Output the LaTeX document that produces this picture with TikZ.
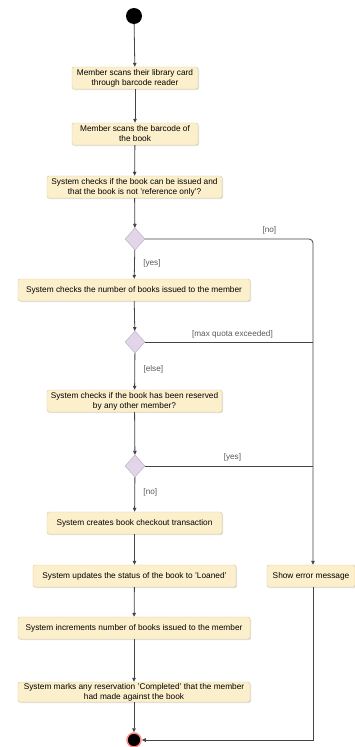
\documentclass[tikz,border=0pt]{standalone}
\usepackage{fontspec}
\setmainfont{Liberation Sans}
\usetikzlibrary{arrows.meta,shadows,shapes.geometric}
\definecolor{actfill}{HTML}{FCF0CC}
\definecolor{actline}{HTML}{D9C791}
\definecolor{decfill}{HTML}{E1D5E7}
\definecolor{decline}{HTML}{B9A6C6}
\definecolor{flowline}{HTML}{444444}
\tikzset{
  activity/.style={draw=actline, fill=actfill, rounded corners=2pt, align=center,
    inner sep=1pt, minimum height=22pt, drop shadow={shadow xshift=1pt, shadow yshift=-1pt, opacity=0.25}},
  decision/.style={draw=decline, fill=decfill, shape=diamond, minimum width=20pt,
    minimum height=22pt, inner sep=0pt},
  flow/.style={draw=flowline, thick, -{Triangle[length=4pt,width=3.5pt]}},
  guard/.style={font=\fontsize{8.2}{9}\selectfont, text=black!65}
}
\begin{document}
\begin{tikzpicture}[x=1pt, y=-1pt, every node/.append style={font=\fontsize{8.3}{10}\selectfont}]
  \useasboundingbox (0,0) rectangle (355,747);
  % start and end
  \node[circle, fill=black, minimum size=16pt, inner sep=0pt] (start) at (134,16) {};
  \node[circle, fill=black, draw=red!45, line width=1.5pt, minimum size=14pt, inner sep=0pt] (stop) at (134,740) {};
  % main branch
  \node[activity, minimum width=126pt] (scancard) at (135,78) {Member scans their library card\\through barcode reader};
  \node[activity, minimum width=126pt] (scanbook) at (135,134) {Member scans the barcode of\\the book};
  \node[activity, minimum width=175pt] (canissue) at (134.5,187) {System checks if the book can be issued and\\that the book is not 'reference only'?};
  \node[decision] (dissue) at (135,239) {};
  \node[activity, minimum width=232pt] (quota) at (134,290) {System checks the number of books issued to the member};
  \node[decision] (dquota) at (135,342) {};
  \node[activity, minimum width=175pt] (reserved) at (134.5,401) {System checks if the book has been reserved\\by any other member?};
  \node[decision] (dreserved) at (135,466) {};
  \node[activity, minimum width=175pt] (checkout) at (134.5,523) {System creates book checkout transaction};
  \node[activity, minimum width=203pt] (loaned) at (134.5,576) {System updates the status of the book to 'Loaned'};
  \node[activity, minimum width=232pt] (increment) at (134,628) {System increments number of books issued to the member};
  \node[activity, minimum width=232pt, minimum height=20pt] (complete) at (134,692) {System marks any reservation 'Completed' that the member\\had made against the book};
  % error branch
  \node[activity, minimum width=88pt] (error) at (311,576) {Show error message};
  \coordinate (corner) at (313,239);

  \draw[flow] (start) -- (scancard);
  \draw[flow] (scancard) -- (scanbook);
  \draw[flow] (scanbook) -- (canissue);
  \draw[flow] (canissue) -- (dissue);
  \draw[flow] (dissue) -- node[guard, right=5pt, pos=0.45] {[yes]} (quota);
  \draw[flow] (quota) -- (dquota);
  \draw[flow] (dquota) -- node[guard, right=5pt, pos=0.45] {[else]} (reserved);
  \draw[flow] (reserved) -- (dreserved);
  \draw[flow] (dreserved) -- node[guard, right=5pt, pos=0.45] {[no]} (checkout);
  \draw[flow] (checkout) -- (loaned);
  \draw[flow] (loaned) -- (increment);
  \draw[flow] (increment) -- (complete);
  \draw[flow] (complete) -- (stop);

  \draw[flow, rounded corners=4pt] (dissue.east) -- node[guard, above=1pt, pos=0.74] {[no]} (corner) -- (error.north -| corner);
  \draw[draw=flowline, thick] (dquota.east) -- node[guard, above=0pt, pos=0.52] {[max quota exceeded]} (dquota.east -| corner);
  \draw[draw=flowline, thick] (dreserved.east) -- node[guard, above=1pt, pos=0.52] {[yes]} (dreserved.east -| corner);
  \draw[flow] (error.south -| corner) |- (stop);
\end{tikzpicture}
\end{document}
